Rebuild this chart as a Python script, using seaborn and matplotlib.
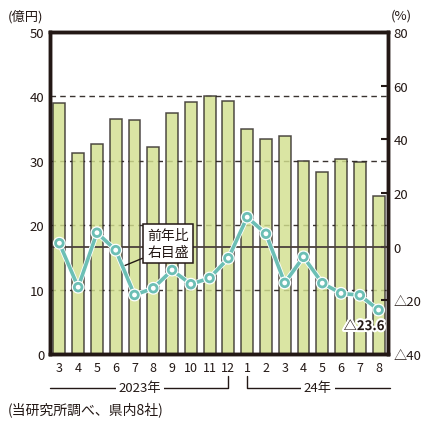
import numpy as np
import pandas as pd
import matplotlib
matplotlib.use("Agg")
import matplotlib.pyplot as plt
import matplotlib.patheffects as pe
from matplotlib.transforms import blended_transform_factory
import seaborn as sns

# ---- data ----
periods = ["2023-03", "2023-04", "2023-05", "2023-06", "2023-07", "2023-08",
           "2023-09", "2023-10", "2023-11", "2023-12", "2024-01", "2024-02",
           "2024-03", "2024-04", "2024-05", "2024-06", "2024-07", "2024-08"]
month_labels = ["3", "4", "5", "6", "7", "8", "9", "10", "11", "12",
                "1", "2", "3", "4", "5", "6", "7", "8"]
amount = [39.0, 31.2, 32.6, 36.5, 36.3, 32.2, 37.5, 39.2, 40.0, 39.3,
          34.9, 33.4, 33.9, 30.0, 28.2, 30.3, 29.8, 24.6]
yoy = [1.3, -15.1, 5.2, -1.3, -18.0, -15.5, -8.7, -14.0, -11.7, -4.3,
       11.0, 4.8, -13.5, -3.8, -13.6, -17.4, -18.1, -23.6]
left_ticks = [0, 10, 20, 30, 40, 50]
right_ticks = [-40, -20, 0, 20, 40, 60, 80]
right_tick_labels = ["△40", "△20", "0", "20", "40", "60", "80"]
grid_vals = [10, 20, 30, 40]
year_labels = ["2023年", "24年"]
callout_text = "前年比\n右目盛"
last_label = "△23.6"
footnote = "(当研究所調べ、県内8社)"

df = pd.DataFrame({"period": periods, "amount": amount, "yoy": yoy,
                   "pos": np.arange(len(periods))})

sns.set_theme(style="white")
plt.rcParams["font.family"] = ["Noto Sans CJK JP", "DejaVu Sans"]

DARK = "#231815"
TEAL = "#6cbfb5"

fig = plt.figure(figsize=(4.28, 4.27), dpi=100)
ax = fig.add_axes([50/428, 1-355/427, 338/428, 322/427])

for g in grid_vals:
    ax.axhline(g, color="#3a3330", lw=1.0, ls=(0, (4, 3)), zorder=0.5)

sns.barplot(data=df, x="period", y="amount", ax=ax, color="#d2e08f",
            width=0.63, edgecolor="#2b2523", linewidth=1.1, alpha=0.82,
            saturation=1, zorder=2)

ax.set_xlim(-0.5, len(periods) - 0.5)
ax.set_ylim(0, 50)
ax.set_yticks(left_ticks)
ax.set_yticklabels([str(v) for v in left_ticks])
ax.set_xticks(np.arange(len(periods)))
ax.set_xticklabels(month_labels)
ax.set_xlabel("")
ax.set_ylabel("")
ax.tick_params(axis="y", length=0, pad=4, labelsize=9.5, colors=DARK)
ax.tick_params(axis="x", length=0, pad=5, labelsize=9, colors=DARK)
for s in ax.spines.values():
    s.set_visible(True)
    s.set_color(DARK)
    s.set_linewidth(2.5)

ax2 = ax.twinx()
ax2.set_ylim(-40, 80)
ax2.axhline(0, color="#4a403c", lw=1.3, zorder=1)
sns.lineplot(data=df, x="pos", y="yoy", ax=ax2, color=TEAL, lw=2.6,
             marker="o", markersize=5.5, markerfacecolor="white",
             markeredgecolor=TEAL, markeredgewidth=2.0, zorder=3,
             path_effects=[pe.Stroke(linewidth=3.8, foreground="white"), pe.Normal()])
ax2.set_xlim(-0.5, len(periods) - 0.5)
ax2.set_yticks(right_ticks)
ax2.set_yticklabels(right_tick_labels)
ax2.set_xlabel("")
ax2.set_ylabel("")
ax2.tick_params(axis="y", direction="in", length=5, width=1.5, pad=4,
                labelsize=9.5, colors=DARK)
for s in ax2.spines.values():
    s.set_visible(True)
    s.set_color(DARK)
    s.set_linewidth(2.5)

# callout
ax2.annotate(callout_text, xy=(3.5, -7.0), xytext=(5.78, 1.2),
             ha="center", va="center", fontsize=10, color=DARK,
             linespacing=1.2,
             bbox=dict(boxstyle="square,pad=0.3", fc="white", ec=DARK, lw=1.1),
             arrowprops=dict(arrowstyle="-", color=DARK, lw=1.0,
                             shrinkA=0, shrinkB=0, relpos=(0.05, 0.1)),
             zorder=5)

ax2.text(16.22, -29.6, last_label, ha="center", va="center", fontsize=9.5,
         fontweight="bold", color=DARK, zorder=5,
         path_effects=[pe.Stroke(linewidth=3, foreground="white"), pe.Normal()])

# year brackets
tr = blended_transform_factory(ax.transData, ax.transAxes)
yl = -(389 - 355) / 322
yv = -(377 - 355) / 322
ax.plot([-0.5, 9, 9], [yl, yl, yv], transform=tr, color=DARK, lw=1.0, clip_on=False)
ax.plot([10, 10, 17.6], [yv, yl, yl], transform=tr, color=DARK, lw=1.0, clip_on=False)
ax.text(4.3, yl, year_labels[0], transform=tr, ha="center", va="center",
        fontsize=9.5, color=DARK,
        bbox=dict(boxstyle="square,pad=0.2", fc="white", ec="none"))
ax.text(13.77, yl, year_labels[1], transform=tr, ha="center", va="center",
        fontsize=9.5, color=DARK,
        bbox=dict(boxstyle="square,pad=0.2", fc="white", ec="none"))

fig.text(8/428, 1-17/427, "(億円)", ha="left", va="center", fontsize=9.5, color=DARK)
fig.text(391/428, 1-16/427, "(%)", ha="left", va="center", fontsize=9.5, color=DARK)
fig.text(8/428, 1-410/427, footnote, ha="left", va="center", fontsize=10, color=DARK)

fig.savefig("out.png", dpi=100, facecolor="white")
